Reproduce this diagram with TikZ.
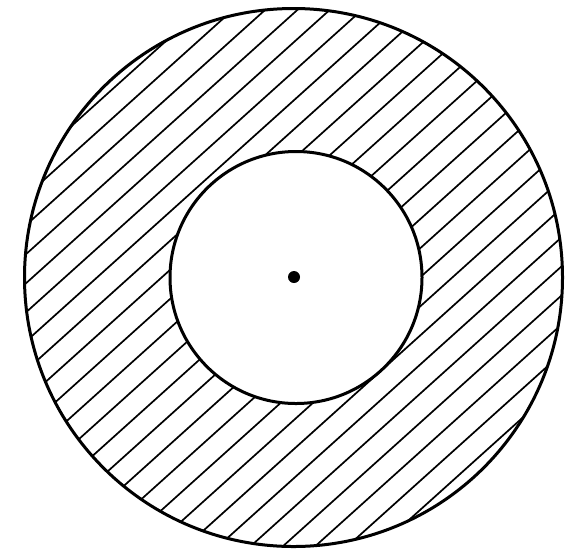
\documentclass[tikz,border=0pt]{standalone}
\begin{document}
\begin{tikzpicture}[x=1pt,y=-1pt,
  rim/.style={draw=black,line width=3pt},
  hatchline/.style={draw=black,line width=1.7pt},
  centredot/.style={fill=black}]
\useasboundingbox[fill=white] (0,0) rectangle (577,558);
\coordinate (oc) at (293.5,277.5);
\coordinate (ic) at (296,277.5);
\coordinate (dc) at (294,277);
\begin{scope}[even odd rule]
  \clip (oc) circle (269) (ic) circle (126);
  \foreach \k in {-4,...,25} {
    \draw[hatchline] (0,248.5+29.07*\k) -- (577,248.5+29.07*\k-519.3);
  }
\end{scope}
\draw[rim] (oc) circle (269);
\draw[rim] (ic) circle (126);
\fill[centredot] (dc) circle (6);
\end{tikzpicture}
\end{document}
